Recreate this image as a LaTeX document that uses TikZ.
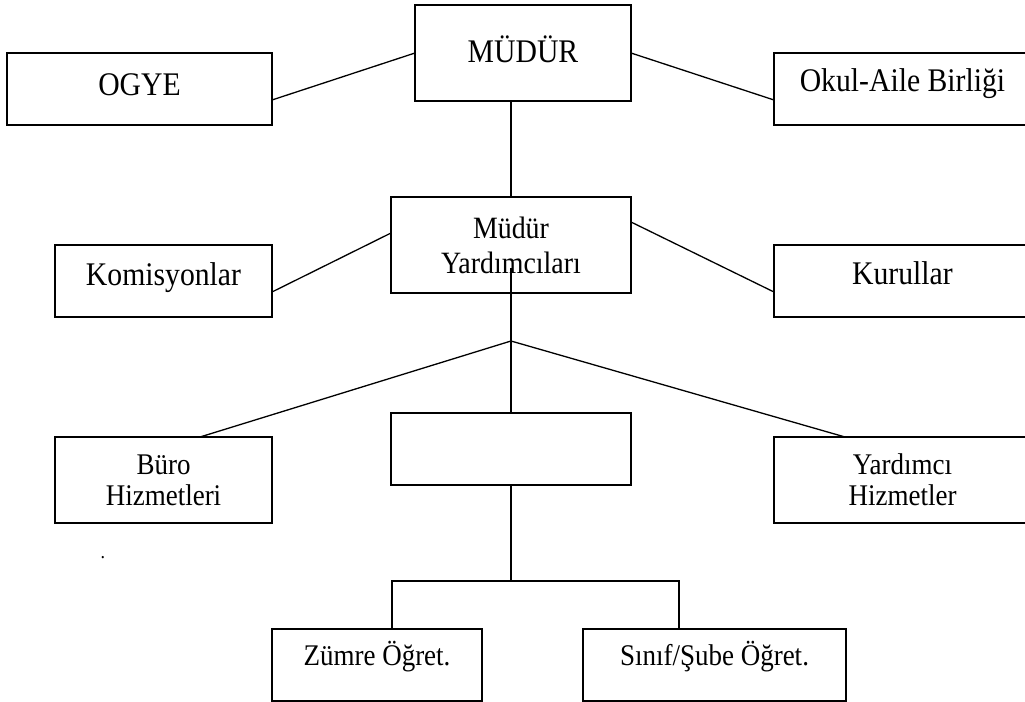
\documentclass[tikz,border=0pt]{standalone}
\usepackage{fontspec}
\setmainfont{Liberation Serif}[FakeStretch=0.9]
\usetikzlibrary{positioning,calc}

\begin{document}
\begin{tikzpicture}[
  x=0.5pt, y=-0.5pt,
  every node/.style={inner sep=0pt, outer sep=0pt},
  box/.style={rectangle, draw, line width=0.65pt},
  bigbox/.style={box, font=\fontsize{16.5}{19}\selectfont},
  midbox/.style={box, align=center, font=\fontsize{15.5}{17.5}\selectfont},
  smallbox/.style={box, align=center, font=\fontsize{15}{15.5}\selectfont},
  link/.style={line width=0.65pt},
]
\useasboundingbox (0,0) rectangle (1025,702);
\clip (0,0) rectangle (1025,702);

%% Top level
\node[bigbox, minimum width=108pt, text height=28.5pt, text depth=19.5pt] (mudur) at (523,53) {MÜDÜR};
\node[bigbox, minimum width=132.5pt, text height=21pt, text depth=15pt] (ogye) at (139.5,89) {OGYE};
\node[bigbox, minimum width=128.5pt, text height=19pt, text depth=17pt] (okul) at (902.5,89) {Okul-Aile Birliği};

%% Second level
\node[midbox, minimum width=120pt, minimum height=48pt] (myard) at (511,245) {Müdür\\Yardımcıları};
\node[bigbox, minimum width=108.5pt, text height=20pt, text depth=16pt] (komis) at (163.5,281) {Komisyonlar};
\node[bigbox, minimum width=128.5pt, text height=19.5pt, text depth=16.5pt] (kurul) at (902.5,281) {Kurullar};

%% Third level
\node[smallbox, minimum width=108.5pt, minimum height=43pt] (buro) at (163.5,480) {Büro\\Hizmetleri};
\node[box, minimum width=120pt, minimum height=36pt] (bos) at (511,449) {};
\node[smallbox, minimum width=128.5pt, minimum height=43pt] (yrdhiz) at (902.5,480) {Yardımcı\\Hizmetler};

%% Teachers
\node[smallbox, minimum width=105pt, text height=18pt, text depth=18pt] (zumre) at (377,665) {Zümre Öğret.};
\node[smallbox, minimum width=131.5pt, text height=18pt, text depth=18pt] (sinif) at (714.5,665) {Sınıf/Şube Öğret.};

\node[font=\fontsize{10}{12}\selectfont] (nokta) at (103,558) {.};

%% Junctions
\coordinate (mytop) at ([yshift=12.5pt]myard.south);
\coordinate (hub) at ([yshift=-24pt]myard.south);
\coordinate (split) at ([yshift=-48pt]bos.south);

%% Lines
\draw[link] ([yshift=-5.5pt]ogye.east) -- (mudur.west);
\draw[link] (mudur.east) -- ([yshift=-5.5pt]okul.west);
\draw[link] (myard.north) -- (myard.north |- mudur.south);
\draw[link] ([yshift=-5.5pt]komis.east) -- ([yshift=6pt]myard.west);
\draw[link] ([yshift=11.5pt]myard.east) -- ([yshift=-5.5pt]kurul.west);
\draw[link] (mytop) -- (hub) -- (bos.north);
\draw[link] (hub) -- ([xshift=18.25pt]buro.north);
\draw[link] (hub) -- ([xshift=-28.75pt]yrdhiz.north);
\draw[link] (bos.south) -- (split);
\draw[link] (split) -| ([xshift=7.5pt]zumre.north);
\draw[link] (split) -| ([xshift=-17.75pt]sinif.north);

\end{tikzpicture}
\end{document}
